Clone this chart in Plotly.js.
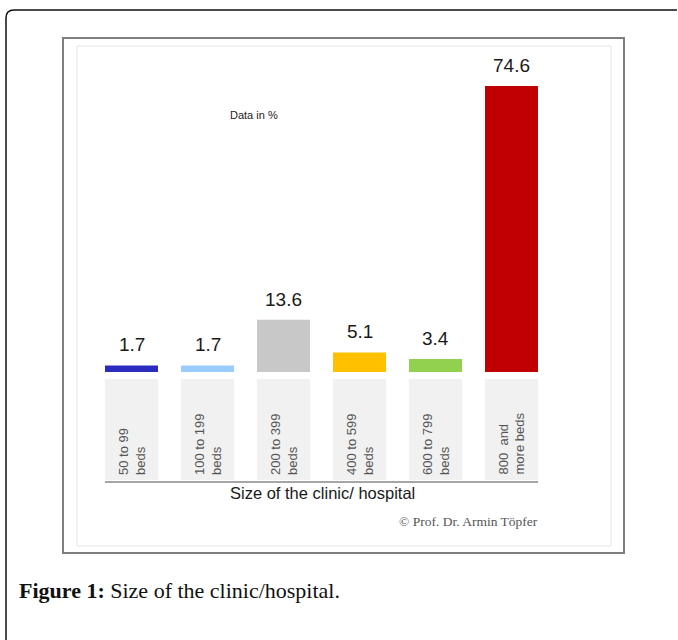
<!DOCTYPE html>
<html>
<head>
<meta charset="utf-8">
<script src="https://cdn.plot.ly/plotly-3.0.1.min.js"></script>
<style>html,body{margin:0;padding:0;background:#fff;}#chart{width:678px;height:640px;}</style>
</head>
<body>
<div id="chart"></div>
<script>
// ---- data ----
const categories = ["50 to 99 beds", "100 to 199 beds", "200 to 399 beds", "400 to 599 beds", "600 to 799 beds", "800 and more beds"];
const categoryLabels = ["50 to 99<br>beds", "100 to 199<br>beds", "200 to 399<br>beds", "400 to 599<br>beds", "600 to 799<br>beds", "800  and<br>more beds"];
const values = [1.7, 1.7, 13.6, 5.1, 3.4, 74.6];
const valueLabels = ["1.7", "1.7", "13.6", "5.1", "3.4", "74.6"];
const barColors = ["#2b2bbf", "#99ccff", "#c8c8c8", "#ffc000", "#92d050", "#c00000"];
const axisTitle = "Size of the clinic/ hospital";
const noteText = "Data in %";
const creditText = "© Prof. Dr. Armin Töpfer";
const captionText = "<b>Figure 1:</b> Size of the clinic/hospital.";

// ---- helpers (pixel -> paper fraction) ----
const W = 678, H = 640;
const fx = p => p / W;
const fy = p => 1 - p / H;

const trace = {
  type: "bar",
  x: categories,
  y: values,
  marker: { color: barColors, line: { width: 0 } },
  hoverinfo: "none"
};

const shapes = [];
// outer rounded border (page box)
shapes.push({
  type: "path", xref: "paper", yref: "paper",
  path: `M ${fx(677)} ${fy(10)} L ${fx(14)} ${fy(10)} Q ${fx(6)} ${fy(10)} ${fx(6)} ${fy(18)} L ${fx(6)} ${fy(641)}`,
  line: { color: "#111", width: 1.5 }
});
// image frame
shapes.push({ type: "rect", xref: "paper", yref: "paper", x0: fx(63), x1: fx(624), y0: fy(553), y1: fy(38),
  line: { color: "#7f7f7f", width: 2 }, layer: "below" });
shapes.push({ type: "rect", xref: "paper", yref: "paper", x0: fx(77), x1: fx(611), y0: fy(546), y1: fy(46),
  line: { color: "#e4e4e4", width: 1 }, layer: "below" });
// label boxes under each bar
categories.forEach((c, i) => {
  shapes.push({ type: "rect", xref: "x", yref: "paper", x0: i - 0.35, x1: i + 0.35, y0: fy(480), y1: fy(379),
    fillcolor: "#f1f1f1", line: { width: 0 }, layer: "below" });
});
// baseline axis line under label boxes
shapes.push({ type: "line", xref: "x", yref: "paper", x0: -0.35, x1: categories.length - 1 + 0.35, y0: fy(482), y1: fy(482),
  line: { color: "#a6a6a6", width: 2 } });

const annotations = [];
// value labels
values.forEach((v, i) => {
  annotations.push({ x: categories[i], y: v, xref: "x", yref: "y", text: valueLabels[i], showarrow: false,
    xanchor: "center", yanchor: "bottom", yshift: 8,
    font: { family: "Liberation Sans, Arial, sans-serif", size: 19, color: "#1a1a1a" } });
});
// category labels (rotated)
categories.forEach((c, i) => {
  annotations.push({ x: c, y: fy(477), xref: "x", yref: "paper", text: categoryLabels[i], showarrow: false,
    textangle: -90, align: "left", xanchor: "center", yanchor: "bottom",
    font: { family: "Liberation Sans, Arial, sans-serif", size: 13, color: "#555" } });
});
// axis title
annotations.push({ x: fx(322), y: fy(493), xref: "paper", yref: "paper", text: axisTitle, showarrow: false,
  xanchor: "center", yanchor: "middle", font: { family: "Liberation Sans, Arial, sans-serif", size: 16.5, color: "#1a1a1a" } });
// note
annotations.push({ x: fx(254), y: fy(115), xref: "paper", yref: "paper", text: noteText, showarrow: false,
  xanchor: "center", yanchor: "middle", font: { family: "Liberation Sans, Arial, sans-serif", size: 11, color: "#222" } });
// credit
annotations.push({ x: fx(540), y: fy(521), xref: "paper", yref: "paper", text: creditText, showarrow: false,
  xanchor: "right", yanchor: "middle", font: { family: "Liberation Serif, Times New Roman, serif", size: 13.5, color: "#555" } });
// caption
annotations.push({ x: fx(17), y: fy(590), xref: "paper", yref: "paper", text: captionText, showarrow: false,
  xanchor: "left", yanchor: "middle", font: { family: "Liberation Serif, Times New Roman, serif", size: 22, color: "#111" } });

const layout = {
  width: W, height: H,
  margin: { l: 0, r: 0, t: 0, b: 0, pad: 0 },
  paper_bgcolor: "#fff", plot_bgcolor: "rgba(0,0,0,0)",
  showlegend: false,
  bargap: 0.303,
  xaxis: { domain: [fx(93.5), fx(549.5)], range: [-0.5, 5.5], type: "category", visible: false, fixedrange: true },
  yaxis: { domain: [fy(372), fy(50)], range: [0, (372 - 50) / (286 / 74.6)], visible: false, fixedrange: true },
  shapes: shapes,
  annotations: annotations
};

Plotly.newPlot("chart", [trace], layout, { displayModeBar: false, staticPlot: true });
</script>
</body>
</html>
